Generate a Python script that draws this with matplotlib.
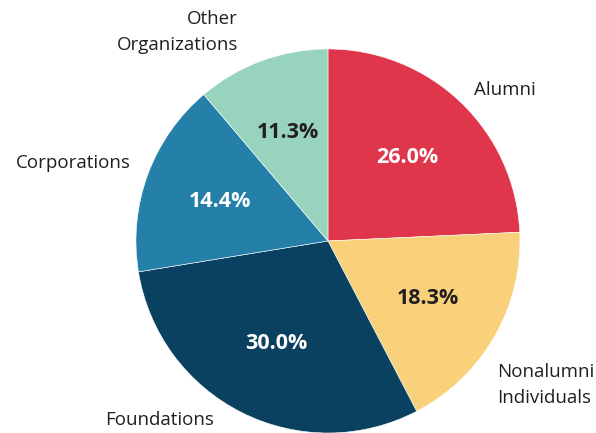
import matplotlib
matplotlib.use("Agg")
import matplotlib.pyplot as plt

categories = ["Alumni", "Nonalumni\nIndividuals", "Foundations", "Corporations", "Other\nOrganizations"]
# slice sizes as drawn in the picture
drawn_values = [24.3, 18.1, 30.1, 16.4, 11.2]
# percentages printed on the slices
pct_labels = ["26.0%", "18.3%", "30.0%", "14.4%", "11.3%"]
colors = ["#e0364b", "#f9d17a", "#0b4160", "#2580a9", "#98d3be"]
pct_colors = ["white", "#231f20", "white", "white", "#231f20"]

plt.rcParams['font.family'] = ['Open Sans', 'DejaVu Sans']

fig = plt.figure(figsize=(5.96, 4.33), dpi=100)
ax = fig.add_axes([0, 0, 1, 1])
wedges, texts, autotexts = ax.pie(drawn_values, colors=colors, startangle=90, counterclock=False,
                                  radius=1, center=(0, 0), autopct='%1.1f%%', pctdistance=0.6,
                                  wedgeprops=dict(edgecolor='white', linewidth=0.4))
for t, lab, c in zip(autotexts, pct_labels, pct_colors):
    t.set_text(lab)
    t.set_color(c)
    t.set_fontsize(15.5)
    t.set_fontweight('bold')

ax.set_xlim(-1.708, 1.396)
ax.set_ylim(-1.0, 1.255)
ax.set_aspect('equal')
ax.axis('off')

tc = "#231f20"
fs = 13.5
ax.text(0.922, 0.786, categories[0], ha='center', va='center', fontsize=fs, color=tc)
ax.text(0.880, -0.75, categories[1], ha='left', va='center', fontsize=fs, color=tc, linespacing=1.6)
ax.text(-0.875, -0.932, categories[2], ha='center', va='center', fontsize=fs, color=tc)
ax.text(-1.026, 0.406, categories[3], ha='right', va='center', fontsize=fs, color=tc)
ax.text(-0.469, 1.089, categories[4], ha='right', va='center', fontsize=fs, color=tc, linespacing=1.6)

fig.savefig("out.png", dpi=100)
